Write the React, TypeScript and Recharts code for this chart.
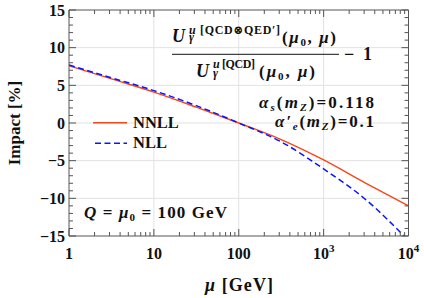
import { Line, LineChart, ReferenceLine, XAxis, YAxis } from "recharts"

const MU = [1, 3.16, 10, 31.6, 100, 316, 1000, 3160, 10000]
const NNLL = [7.6, 5.85, 4.1, 2.1, 0, -2.2, -4.9, -8.0, -11.0]
const NLL = [7.7, 6.0, 4.3, 2.3, 0, -2.5, -6.1, -10.2, -15.6]

const X_MAJOR = [1, 10, 100, 1000, 10000]
const X_LABELS = ["1", "10", "100", "10^3", "10^4"]
const Y_MAJOR = [-15, -10, -5, 0, 5, 10, 15]

const RED = "#fa4616"
const BLUE = "#0a14ff"
const AXIS = "#555555"
const GRID = "#e2e2e2"
const FONT = "'Liberation Serif', 'DejaVu Serif', serif"

const data = MU.map((mu, i) => ({ mu, nnll: NNLL[i], nll: NLL[i] }))

// minor ticks: 1..9 in every decade
const xTicks: number[] = []
for (const d of [1, 10, 100, 1000]) for (let k = 1; k <= 9; k++) xTicks.push(k * d)
xTicks.push(10000)
const yTicks: number[] = []
for (let v = -15; v <= 15; v++) yTicks.push(v)

function tickLen(major: boolean) {
  return major ? 7 : 4
}

function XLabel({ x, y, label }: { x: number; y: number; label: string }) {
  const [base, exp] = label.split("^")
  return (
    <text x={x} y={y} textAnchor="middle" fontFamily={FONT} fontWeight="bold" fontSize={16} fill="#111">
      {base}
      {exp && (
        <tspan fontSize={11} dy={-7}>
          {exp}
        </tspan>
      )}
    </text>
  )
}

function BottomTick(p: any) {
  const i = X_MAJOR.indexOf(p.payload.value)
  return (
    <g>
      <line x1={p.x} x2={p.x} y1={p.y} y2={p.y - tickLen(i >= 0)} stroke={AXIS} />
      {i >= 0 && <XLabel x={p.x} y={p.y + 23} label={X_LABELS[i]} />}
    </g>
  )
}

function TopTick(p: any) {
  const major = X_MAJOR.includes(p.payload.value)
  return <line x1={p.x} x2={p.x} y1={p.y} y2={p.y + tickLen(major)} stroke={AXIS} />
}

function LeftTick(p: any) {
  const v = p.payload.value
  const major = Y_MAJOR.includes(v)
  return (
    <g>
      <line x1={p.x} x2={p.x + tickLen(major)} y1={p.y} y2={p.y} stroke={AXIS} />
      {major && (
        <text x={p.x - 4} y={p.y + 5.5} textAnchor="end" fontFamily={FONT} fontWeight="bold" fontSize={16} fill="#111">
          {v < 0 ? "\u2212" + Math.abs(v) : v}
        </text>
      )}
    </g>
  )
}

function RightTick(p: any) {
  const major = Y_MAJOR.includes(p.payload.value)
  return <line x1={p.x} x2={p.x - tickLen(major)} y1={p.y} y2={p.y} stroke={AXIS} />
}

const it = { fontStyle: "italic" as const }

function Overlay() {
  return (
    <svg
      width={424}
      height={298}
      style={{ position: "absolute", left: 0, top: 0, pointerEvents: "none" }}
      fontFamily={FONT}
      fontWeight="bold"
      fill="#111"
    >
      {/* axis titles */}
      <text transform="translate(20,123) rotate(-90)" textAnchor="middle" fontSize={17}>
        Impact [%]
      </text>
      <text x={205} y={291} fontSize={18} textLength={68}>
        <tspan style={it}>μ</tspan> [GeV]
      </text>

      {/* legend */}
      <line x1={93} x2={127} y1={122.7} y2={122.7} stroke={RED} strokeWidth={1.5} />
      <text x={133} y={128.3} fontSize={16.5}>NNLL</text>
      <line x1={95} x2={127} y1={143.3} y2={143.3} stroke={BLUE} strokeWidth={1.5} strokeDasharray="6 3.5" />
      <text x={133} y={148.3} fontSize={16.5}>NLL</text>

      {/* ratio formula */}
      <text x={172} y={41.5} fontSize={18} style={it} textLength={16}>U</text>
      <text x={189} y={33.5} fontSize={12} textLength={91}>
        <tspan style={it}>u</tspan> [QCD⊗QED′]
      </text>
      <text x={189} y={41} fontSize={12} style={it}>γ</text>
      <text x={282} y={42.5} fontSize={17} textLength={54}>
        (<tspan style={it}>μ</tspan>
        <tspan fontSize={11} dy={3}>0</tspan>
        <tspan dy={-3}>, </tspan>
        <tspan style={it}>μ</tspan>)
      </text>
      <line x1={172} x2={339} y1={54.3} y2={54.3} stroke="#111" strokeWidth={1} />
      <text x={344} y={59.5} fontSize={18} textLength={28}>− 1</text>
      <text x={196} y={76.7} fontSize={18} style={it} textLength={16}>U</text>
      <text x={213} y={68} fontSize={12} textLength={42}>
        <tspan style={it}>u</tspan> [QCD]
      </text>
      <text x={213} y={76.5} fontSize={12} style={it}>γ</text>
      <text x={259} y={77} fontSize={17} textLength={56}>
        (<tspan style={it}>μ</tspan>
        <tspan fontSize={11} dy={3}>0</tspan>
        <tspan dy={-3}>, </tspan>
        <tspan style={it}>μ</tspan>)
      </text>

      {/* couplings */}
      <text x={259} y={107.5} fontSize={17} textLength={115}>
        <tspan style={it}>α</tspan>
        <tspan fontSize={11} dy={3} style={it}>s</tspan>
        <tspan dy={-3}>(</tspan>
        <tspan style={it}>m</tspan>
        <tspan fontSize={11} dy={3} style={it}>Z</tspan>
        <tspan dy={-3}>)=0.118</tspan>
      </text>
      <text x={275} y={126.5} fontSize={17} textLength={99}>
        <tspan style={it}>α′</tspan>
        <tspan fontSize={11} dy={3} style={it}>e</tspan>
        <tspan dy={-3}>(</tspan>
        <tspan style={it}>m</tspan>
        <tspan fontSize={11} dy={3} style={it}>Z</tspan>
        <tspan dy={-3}>)=0.1</tspan>
      </text>

      {/* scale choice */}
      <text x={84} y={218} fontSize={17} textLength={143}>
        <tspan style={it}>Q</tspan> = <tspan style={it}>μ</tspan>
        <tspan fontSize={11} dy={3}>0</tspan>
        <tspan dy={-3}> = 100  GeV</tspan>
      </text>
    </svg>
  )
}

export default function App() {
  return (
    <div style={{ position: "absolute", left: 0, top: 0, width: 424, height: 298, background: "#fff" }}>
      <LineChart width={424} height={298} data={data} margin={{ top: 0, right: 0, bottom: 0, left: 0 }}>
        <XAxis
          xAxisId="b"
          dataKey="mu"
          type="number"
          scale="log"
          domain={[1, 10000]}
          ticks={xTicks}
          interval={0}
          height={62}
          tickSize={0}
          tickMargin={0}
          tickLine={false}
          axisLine={{ stroke: AXIS }}
          tick={(p: any) => <BottomTick {...p} />}
          allowDataOverflow
        />
        <XAxis
          xAxisId="t"
          orientation="top"
          dataKey="mu"
          type="number"
          scale="log"
          domain={[1, 10000]}
          ticks={xTicks}
          interval={0}
          height={10}
          tickSize={0}
          tickMargin={0}
          tickLine={false}
          axisLine={{ stroke: AXIS }}
          tick={(p: any) => <TopTick {...p} />}
          allowDataOverflow
        />
        <YAxis
          yAxisId="l"
          type="number"
          domain={[-15, 15]}
          ticks={yTicks}
          interval={0}
          width={69}
          tickSize={0}
          tickMargin={0}
          tickLine={false}
          axisLine={{ stroke: AXIS }}
          tick={(p: any) => <LeftTick {...p} />}
          allowDataOverflow
        />
        <YAxis
          yAxisId="r"
          orientation="right"
          type="number"
          domain={[-15, 15]}
          ticks={yTicks}
          interval={0}
          width={15.5}
          tickSize={0}
          tickMargin={0}
          tickLine={false}
          axisLine={{ stroke: AXIS }}
          tick={(p: any) => <RightTick {...p} />}
          allowDataOverflow
        />
        {X_MAJOR.slice(1, -1).map((v) => (
          <ReferenceLine key={"x" + v} xAxisId="b" yAxisId="l" x={v} stroke={GRID} />
        ))}
        {Y_MAJOR.slice(1, -1).map((v) => (
          <ReferenceLine key={"y" + v} xAxisId="b" yAxisId="l" y={v} stroke={GRID} />
        ))}
        <Line
          xAxisId="b"
          yAxisId="l"
          dataKey="nnll"
          type="monotone"
          stroke={RED}
          strokeWidth={1.4}
          dot={false}
          isAnimationActive={false}
        />
        <Line
          xAxisId="b"
          yAxisId="l"
          dataKey="nll"
          type="monotone"
          stroke={BLUE}
          strokeWidth={1.5}
          strokeDasharray="6 3.5"
          dot={false}
          isAnimationActive={false}
        />
      </LineChart>
      <Overlay />
    </div>
  )
}
